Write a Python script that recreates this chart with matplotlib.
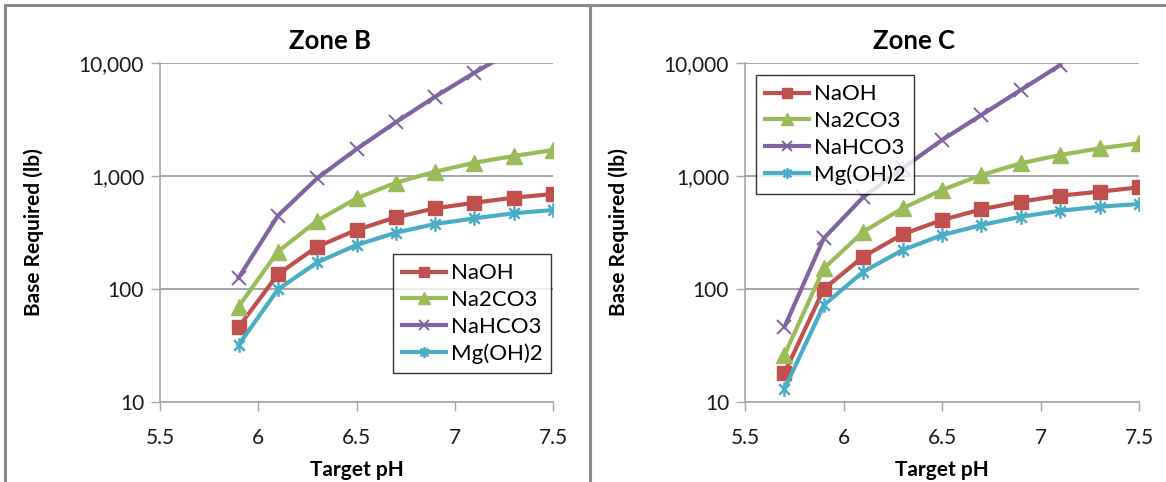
import matplotlib
matplotlib.use("Agg")
import numpy as np
from matplotlib import pyplot as plt
from matplotlib.path import Path
from matplotlib.patches import Rectangle

plt.rcParams["font.family"] = ["Lato", "DejaVu Sans"]

# --- data ---
ph_b = [5.9, 6.1, 6.3, 6.5, 6.7, 6.9, 7.1, 7.3, 7.5]
naoh_b = [46, 135, 237, 333, 431, 518, 580, 643, 693]
na2co3_b = [70, 214, 402, 634, 873, 1091, 1312, 1503, 1698]
nahco3_b = [126, 445, 955, 1730, 2990, 5030, 8200, 13000, 20000]
mgoh2_b = [32, 99, 172, 245, 315, 376, 422, 468, 500]

ph_c = [5.7, 5.9, 6.1, 6.3, 6.5, 6.7, 6.9, 7.1, 7.3, 7.5]
naoh_c = [18, 100, 193, 305, 408, 507, 593, 670, 727, 794]
na2co3_c = [26, 152, 321, 518, 752, 1020, 1295, 1535, 1758, 1946]
ph_c_nahco3 = [5.7, 5.9, 6.1, 6.3, 6.5, 6.7, 6.9, 7.1]
nahco3_c = [46, 281, 650, 1170, 2083, 3467, 5770, 9600]
mgoh2_c = [13, 72, 142, 221, 300, 368, 436, 493, 535, 565]

x_ticks = [5.5, 6, 6.5, 7, 7.5]
x_tick_labels = ["5.5", "6", "6.5", "7", "7.5"]
y_ticks = [10, 100, 1000, 10000]
y_tick_labels = ["10", "100", "1,000", "10,000"]

RED = "#C0504D"
GREEN = "#9BBB59"
PURPLE = "#8064A2"
CYAN = "#4BACC6"
AXIS_GRAY = "#A6A6A6"

# Excel-style star marker: vertical bar plus an X
STAR = Path(
    [(0, -1), (0, 1), (-0.72, -0.72), (0.72, 0.72), (-0.72, 0.72), (0.72, -0.72)],
    [Path.MOVETO, Path.LINETO, Path.MOVETO, Path.LINETO, Path.MOVETO, Path.LINETO],
)

W, H = 1166, 482
fig = plt.figure(figsize=(W / 100, H / 100), dpi=100, facecolor="white")


def px_axes(x0, y0, x1, y1):
    return fig.add_axes([x0 / W, 1 - y1 / H, (x1 - x0) / W, (y1 - y0) / H])


def draw_zone(ax, title, title_x, series, legend_loc):
    for xs, ys, label, color, marker, ms, kw in series:
        ax.plot(xs, ys, color=color, lw=3.0, marker=marker, markersize=ms,
                label=label, **kw)
    ax.set_yscale("log")
    ax.set_xlim(5.5, 7.5)
    ax.set_ylim(10, 10000)
    ax.set_xticks(x_ticks, x_tick_labels)
    ax.set_yticks(y_ticks, y_tick_labels)
    ax.yaxis.set_minor_locator(matplotlib.ticker.NullLocator())
    ax.tick_params(axis="both", which="major", labelsize=15, length=6.5,
                   width=1, color=AXIS_GRAY, pad=5, labelcolor="#1a1a1a")
    ax.tick_params(axis="x", pad=12.5)
    for side in ("top", "right"):
        ax.spines[side].set_visible(False)
    for side in ("left", "bottom"):
        ax.spines[side].set_color(AXIS_GRAY)
        ax.spines[side].set_linewidth(1.2)
    ax.grid(axis="y", which="major", color="#8C8C8C", lw=1.1)
    ax.set_axisbelow(True)
    ax.set_title(title, fontsize=18.5, fontweight="bold", pad=10, x=title_x)
    ax.set_xlabel("Target pH", fontsize=15, fontweight="bold", labelpad=8)
    ax.set_ylabel("Base Required (lb)", fontsize=15, fontweight="bold",
                  labelpad=25)
    leg = ax.legend(loc=legend_loc, fontsize=16, frameon=True, fancybox=False,
                    edgecolor="black", handlelength=2.0, handletextpad=0.2,
                    labelspacing=0.3, borderpad=0.4, borderaxespad=0.0,
                    markerscale=0.75)
    leg.get_frame().set_linewidth(1.0)
    return leg


ax_b = px_axes(160, 63, 553, 402)
draw_zone(ax_b, "Zone B", 0.433, [
    (ph_b, naoh_b, "NaOH", RED, "s", 10, {}),
    (ph_b, na2co3_b, "Na2CO3", GREEN, "^", 11, {}),
    (ph_b, nahco3_b, "NaHCO3", PURPLE, "x", 10.5, {"markeredgewidth": 1.4}),
    (ph_b, mgoh2_b, "Mg(OH)2", CYAN, STAR, 10.5,
     {"markeredgewidth": 1.8, "markerfacecolor": "none"}),
], legend_loc=(0.593, 0.086))

ax_c = px_axes(745, 63, 1139, 402)
draw_zone(ax_c, "Zone C", 0.429, [
    (ph_c, naoh_c, "NaOH", RED, "s", 10, {}),
    (ph_c, na2co3_c, "Na2CO3", GREEN, "^", 11, {}),
    (ph_c_nahco3, nahco3_c, "NaHCO3", PURPLE, "x", 10.5, {"markeredgewidth": 1.4}),
    (ph_c, mgoh2_c, "Mg(OH)2", CYAN, STAR, 10.5,
     {"markeredgewidth": 1.8, "markerfacecolor": "none"}),
], legend_loc=(0.028, 0.614))

# chart-area borders
for x0, x1 in ((5, 590), (590, 1200)):
    fig.add_artist(Rectangle((x0 / W, -0.2), (x1 - x0) / W, 1.2 - 5 / H,
                             transform=fig.transFigure, fill=False,
                             edgecolor="#8A8A8A", lw=2.2))

fig.savefig("out.png", dpi=100, facecolor="white")
